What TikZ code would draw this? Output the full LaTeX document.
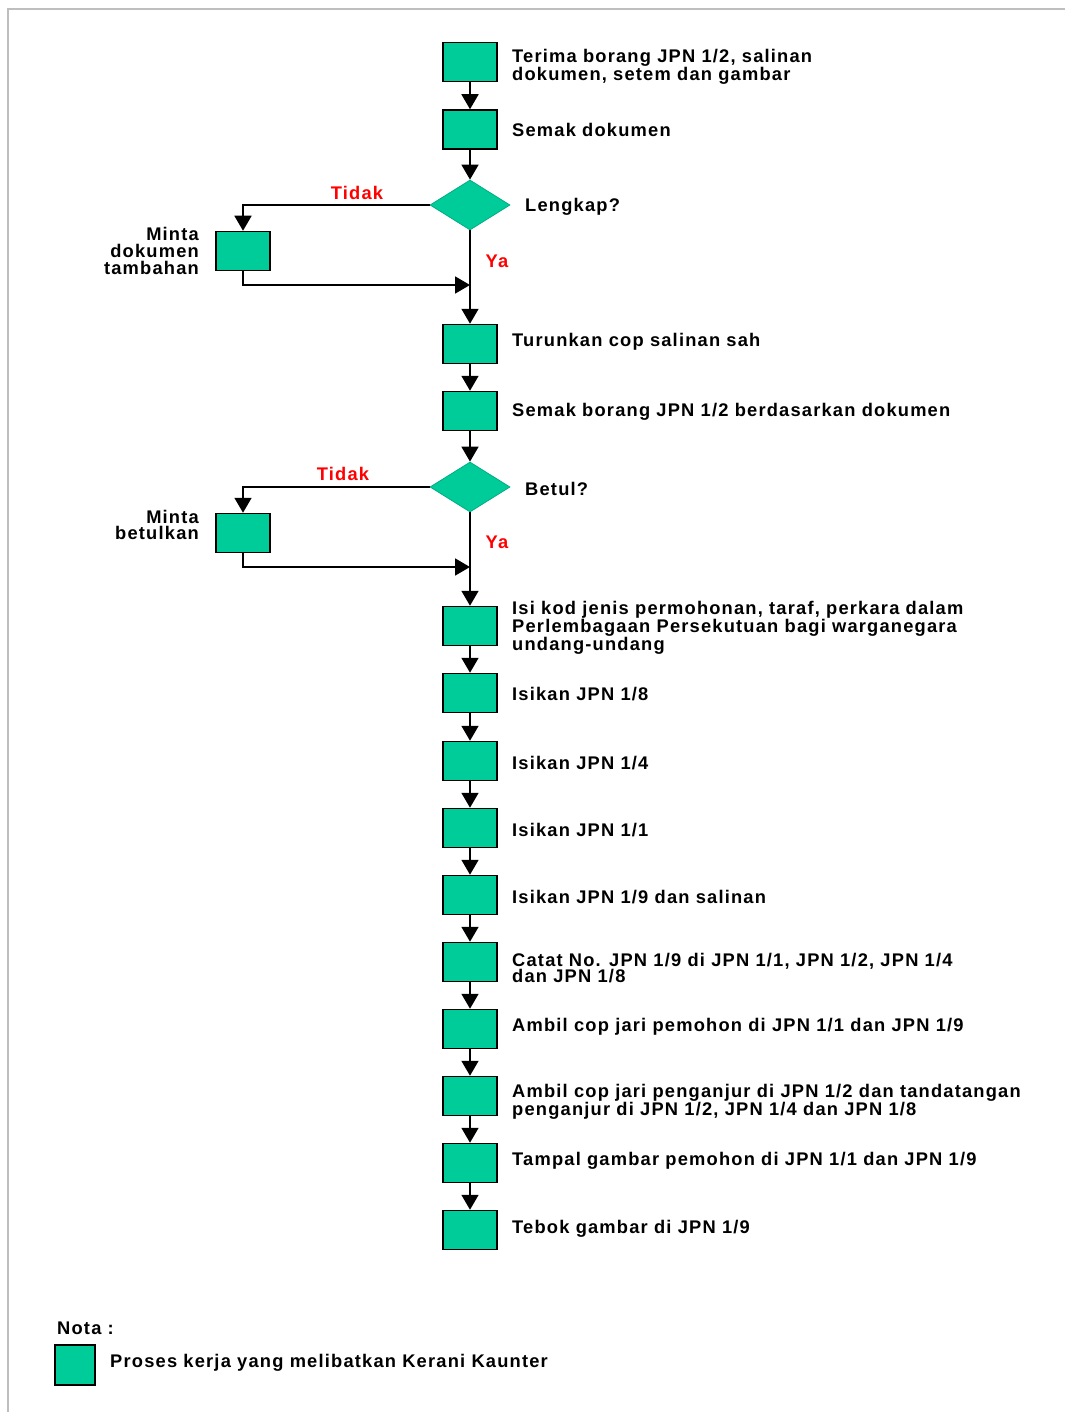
\documentclass[tikz,border=0pt]{standalone}
\usepackage{fontspec}
\setmainfont{Liberation Sans}
\newfontfamily\cartafont[LetterSpace=6.5]{Liberation Sans}
\usetikzlibrary{arrows.meta,positioning,shapes.geometric}
\definecolor{hijau}{RGB}{0,204,153}
\definecolor{bingkai}{RGB}{190,190,190}
\tikzset{>={Triangle[length=15pt,width=17pt]},
	proses/.style={rectangle,draw=black,fill=hijau,line width=1.5pt,minimum width=54pt,minimum height=39pt,inner sep=0pt},
	keputusan/.style={diamond,draw=hijau!85!black,fill=hijau,line width=0.8pt,minimum width=80pt,minimum height=50pt,inner sep=0pt},
	teks/.style={anchor=west,align=left,inner sep=0pt,font=\cartafont\bfseries\fontsize{18.3}{16.8}\selectfont},
	kiri/.style={anchor=east,align=right,inner sep=0pt,font=\cartafont\bfseries\fontsize{18.3}{16.8}\selectfont},
	jawab/.style={inner sep=0pt,text=red,font=\cartafont\bfseries\fontsize{18.3}{16.8}\selectfont},
	aliran/.style={line width=1.8pt}}
\begin{document}
\begin{tikzpicture}[x=1pt,y=-1pt]
	\useasboundingbox (0,0) rectangle (1065,1412);
	\draw[bingkai,line width=2pt] (8,1412) -- (8,9) -- (1065,9);
	\node (P1) at (470,62) [proses] {};
	\node (P2) at (470,129.5) [proses] {};
	\node (D1) at (470,205) [keputusan] {};
	\node (M1) at (243,251) [proses] {};
	\node (P3) at (470,344) [proses] {};
	\node (P4) at (470,411) [proses] {};
	\node (D2) at (470,487) [keputusan] {};
	\node (M2) at (243,533) [proses] {};
	\node (P5) at (470,626) [proses] {};
	\node (P6) at (470,693) [proses] {};
	\node (P7) at (470,761) [proses] {};
	\node (P8) at (470,828) [proses] {};
	\node (P9) at (470,895) [proses] {};
	\node (P10) at (470,962) [proses] {};
	\node (P11) at (470,1029) [proses] {};
	\node (P12) at (470,1096) [proses] {};
	\node (P13) at (470,1163) [proses] {};
	\node (P14) at (470,1230) [proses] {};
	\coordinate (J1) at (470,285);
	\coordinate (J2) at (470,567);
	\node (T1) at (512,67) [teks] {Terima borang JPN 1/2, salinan\\dokumen, setem dan gambar};
	\node (T2) at (512,130) [teks] {Semak dokumen};
	\node (T3) at (525,207) [teks] {Lengkap?};
	\node (T4) at (199,251) [kiri] {Minta\\dokumen\\tambahan};
	\node (T5) at (512,342) [teks] {Turunkan cop salinan sah};
	\node (T6) at (512,412) [teks] {Semak borang JPN 1/2 berdasarkan dokumen};
	\node (T7) at (525,489) [teks] {Betul?};
	\node (T8) at (199,525) [kiri] {Minta\\betulkan};
	\node (T9) at (512,628) [teks] {Isi kod jenis permohonan, taraf, perkara dalam\\Perlembagaan Persekutuan bagi warganegara\\undang-undang};
	\node (T10) at (512,694) [teks] {Isikan JPN 1/8};
	\node (T11) at (512,763) [teks] {Isikan JPN 1/4};
	\node (T12) at (512,830) [teks] {Isikan JPN 1/1};
	\node (T13) at (512,897) [teks] {Isikan JPN 1/9 dan salinan};
	\node (T14) at (512,968) [teks] {Catat No. JPN 1/9 di JPN 1/1, JPN 1/2, JPN 1/4\\dan JPN 1/8};
	\node (T15) at (512,1027) [teks] {Ambil cop jari pemohon di JPN 1/1 dan JPN 1/9};
	\node (T16) at (512,1102) [teks] {Ambil cop jari penganjur di JPN 1/2 dan tandatangan\\penganjur di JPN 1/2, JPN 1/4 dan JPN 1/8};
	\node (T17) at (512,1161) [teks] {Tampal gambar pemohon di JPN 1/1 dan JPN 1/9};
	\node (T18) at (512,1229) [teks] {Tebok gambar di JPN 1/9};
	\node (Y1) at (357,193) [jawab] {Tidak};
	\node (Y2) at (497,261) [jawab] {Ya};
	\node (Y3) at (343,474) [jawab] {Tidak};
	\node (Y4) at (497,542) [jawab] {Ya};
	\node (N0) at (57,1328) [teks] {Nota :};
	\node (N1) at (75,1365) [proses,minimum width=40pt,minimum height=40pt] {};
	\node (N2) at (110,1363) [teks] {Proses kerja yang melibatkan Kerani Kaunter};
	\draw[aliran,->] (P1) -- (P2);
	\draw[aliran,->] (P2) -- (D1);
	\draw[aliran,->] (D1.west) -| (M1);
	\draw[aliran,->] (M1.south) |- (J1);
	\draw[aliran,->] (D1) -- (P3);
	\draw[aliran,->] (P3) -- (P4);
	\draw[aliran,->] (P4) -- (D2);
	\draw[aliran,->] (D2.west) -| (M2);
	\draw[aliran,->] (M2.south) |- (J2);
	\draw[aliran,->] (D2) -- (P5);
	\draw[aliran,->] (P5) -- (P6);
	\draw[aliran,->] (P6) -- (P7);
	\draw[aliran,->] (P7) -- (P8);
	\draw[aliran,->] (P8) -- (P9);
	\draw[aliran,->] (P9) -- (P10);
	\draw[aliran,->] (P10) -- (P11);
	\draw[aliran,->] (P11) -- (P12);
	\draw[aliran,->] (P12) -- (P13);
	\draw[aliran,->] (P13) -- (P14);
\end{tikzpicture}
\end{document}
